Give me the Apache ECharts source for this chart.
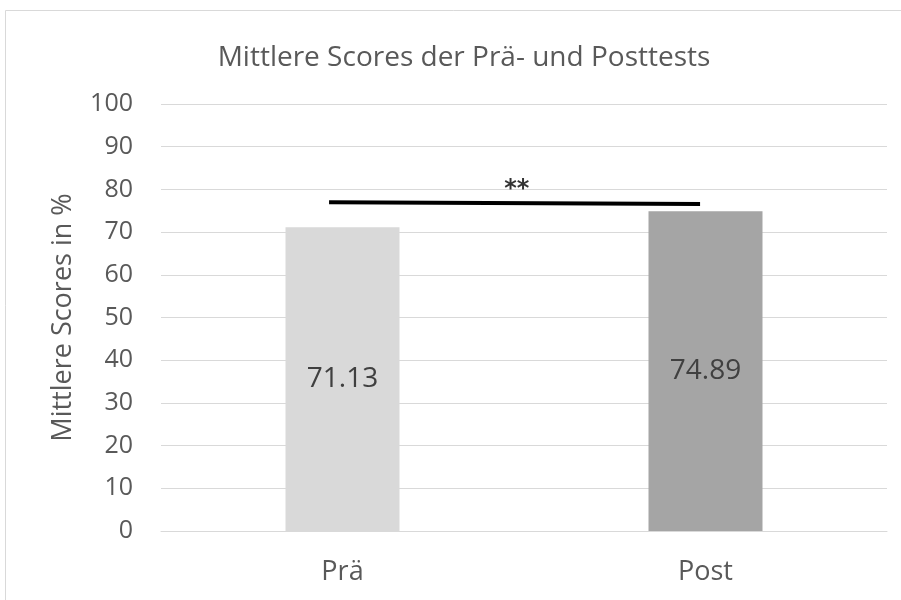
<!DOCTYPE html>
<html>
<head>
<meta charset="utf-8">
<script src="https://cdn.jsdelivr.net/npm/echarts@6/dist/echarts.min.js"></script>
<style>
html, body { margin: 0; padding: 0; background: #fff; }
#chart { width: 901px; height: 600px; }
</style>
</head>
<body>
<div id="chart"></div>
<script>
var categories = ['Prä', 'Post'];
var scores = [71.13, 74.89];
var barColors = ['#d9d9d9', '#a5a5a5'];
// Signifikanzlinie (x in Kategorie-Einheiten, y in %)
var sigLineX = [-0.037, 0.985];
var sigLineY = [77.0, 76.6];
var sigMark = [[0.48, 79.8]];
var sigText = '**';

var dom = document.getElementById('chart');
var myChart = echarts.init(dom);
var font = 'Open Sans';

var option = {
    backgroundColor: '#fff',
    animation: false,
    title: {
        text: 'Mittlere Scores der Prä- und Posttests',
        left: 459,
        textAlign: 'center',
        top: 39,
        textStyle: { fontFamily: font, fontWeight: 'normal', fontSize: 28, color: '#595959' }
    },
    graphic: [{
        type: 'rect',
        shape: { x: 5.5, y: 10.5, width: 920, height: 620 },
        style: { fill: 'none', stroke: '#d9d9d9', lineWidth: 1 },
        silent: true
    }],
    grid: { left: 161, right: 14, top: 104, bottom: 69 },
    xAxis: [{
        type: 'category',
        data: categories,
        axisTick: { show: false },
        axisLine: { lineStyle: { color: '#d9d9d9', width: 1 } },
        axisLabel: { fontFamily: font, fontSize: 27, color: '#595959', margin: 28 }
    }, {
        type: 'value',
        min: -0.5,
        max: 1.5,
        show: false
    }],
    yAxis: {
        type: 'value',
        min: 0,
        max: 100,
        interval: 10,
        name: 'Mittlere Scores in %',
        nameLocation: 'middle',
        nameGap: 84,
        nameTextStyle: { fontFamily: font, fontSize: 27, color: '#595959' },
        axisLine: { show: false },
        axisTick: { show: false },
        axisLabel: { fontFamily: font, fontSize: 25, color: '#595959', margin: 28 },
        splitLine: { lineStyle: { color: '#d9d9d9', width: 1 } }
    },
    series: [{
        type: 'bar',
        xAxisIndex: 0,
        barWidth: 114,
        data: scores.map(function (v, i) {
            return { value: v, itemStyle: { color: barColors[i] } };
        }),
        label: {
            show: true,
            position: 'inside',
            fontFamily: font,
            fontSize: 28,
            color: '#404040'
        }
    }, {
        type: 'line',
        xAxisIndex: 1,
        data: sigLineX.map(function (x, i) { return [x, sigLineY[i]]; }),
        symbol: 'none',
        lineStyle: { color: '#000', width: 4 },
        z: 5
    }, {
        type: 'scatter',
        xAxisIndex: 1,
        data: sigMark,
        symbolSize: 0,
        label: {
            show: true,
            position: 'inside',
            formatter: sigText,
            fontFamily: 'DejaVu Sans',
            fontWeight: 'bold',
            fontSize: 24,
            color: '#000'
        },
        z: 6
    }]
};
myChart.setOption(option);
</script>
</body>
</html>
